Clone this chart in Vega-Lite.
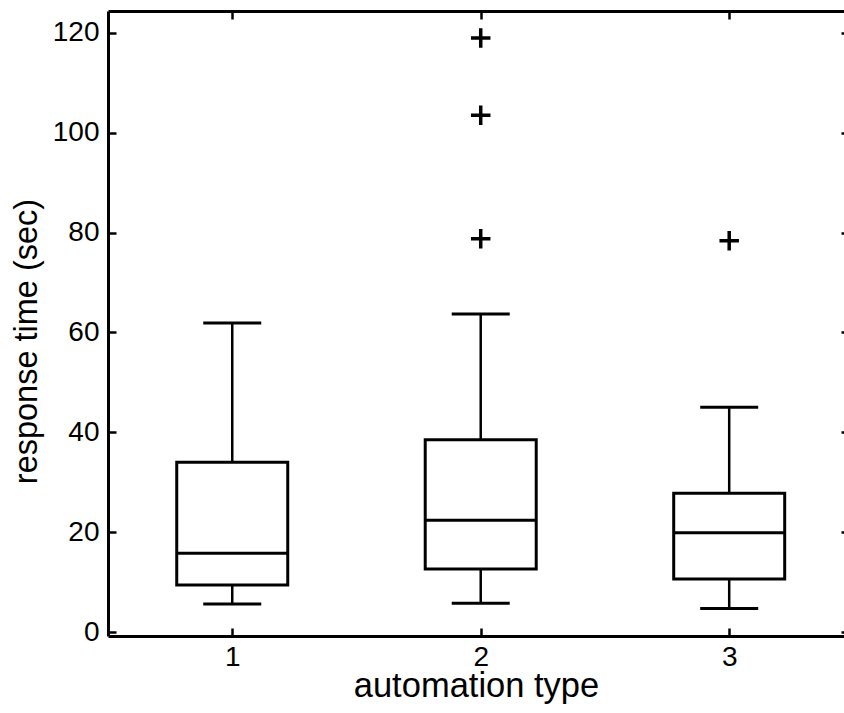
{
  "$schema": "https://vega.github.io/schema/vega-lite/v6.json",
  "width": 736,
  "height": 625,
  "autosize": {"type": "none"},
  "padding": {"left": 108, "top": 11, "right": 0, "bottom": 77},
  "background": "white",
  "config": {
    "view": {"stroke": null},
    "font": "Liberation Sans",
    "axis": {
      "domainColor": "black",
      "domainWidth": 3,
      "tickColor": "black",
      "tickWidth": 2.5,
      "labelColor": "black",
      "titleColor": "black",
      "labelFont": "Liberation Sans",
      "titleFont": "Liberation Sans",
      "labelFontSize": 28,
      "labelFontWeight": "normal",
      "titleFontSize": 34,
      "titleFontWeight": "normal",
      "grid": false
    }
  },
  "datasets": {
    "boxes": [
      {"type": 1, "lower": 5.6, "q1": 9.4, "median": 15.8, "q3": 34.0, "upper": 61.9},
      {"type": 2, "lower": 5.75, "q1": 12.6, "median": 22.4, "q3": 38.5, "upper": 63.7},
      {"type": 3, "lower": 4.7, "q1": 10.6, "median": 19.9, "q3": 27.8, "upper": 45.0}
    ],
    "outliers": [
      {"type": 2, "value": 78.8},
      {"type": 2, "value": 103.5},
      {"type": 2, "value": 119.0},
      {"type": 3, "value": 78.4}
    ]
  },
  "resolve": {"axis": {"x": "independent", "y": "independent"}},
  "layer": [
    {
      "data": {"name": "boxes"},
      "mark": {"type": "rule", "color": "black", "strokeWidth": 2.5},
      "encoding": {
        "x": {"field": "type", "type": "quantitative",
              "scale": {"domain": [0.5, 3.462], "nice": false, "zero": false, "padding": 0},
              "axis": {"orient": "bottom", "values": [1, 2, 3], "tickSize": -8, "labelPadding": 15,
                       "title": "automation type", "titleFontSize": 34.5, "titleY": 60, "titleBaseline": "alphabetic"}},
        "y": {"field": "q3", "type": "quantitative",
              "scale": {"domain": [-0.8, 124.4], "nice": false, "zero": false, "padding": 0},
              "axis": {"orient": "left", "values": [0, 20, 40, 60, 80, 100, 120], "tickSize": -8, "labelPadding": 17,
                       "title": "response time (sec)", "titleFontSize": 32.5, "titleX": -72, "titleY": 330, "titleBaseline": "alphabetic"}},
        "y2": {"field": "upper"}
      }
    },
    {
      "data": {"name": "boxes"},
      "mark": {"type": "rule", "color": "black", "strokeWidth": 2.5},
      "encoding": {
        "x": {"field": "type", "type": "quantitative",
              "axis": {"orient": "top", "values": [1, 2, 3], "tickSize": -8, "labels": false, "title": null}},
        "y": {"field": "lower", "type": "quantitative",
              "axis": {"orient": "right", "values": [0, 20, 40, 60, 80, 100, 120], "tickSize": -3, "labels": false, "domain": false, "title": null}},
        "y2": {"field": "q1"}
      }
    },
    {
      "data": {"name": "boxes"},
      "mark": {"type": "bar", "fill": "white", "stroke": "black", "strokeWidth": 3, "size": 111},
      "encoding": {
        "x": {"field": "type", "type": "quantitative", "axis": null},
        "y": {"field": "q1", "type": "quantitative", "axis": null},
        "y2": {"field": "q3"}
      }
    },
    {
      "data": {"name": "boxes"},
      "mark": {"type": "tick", "orient": "horizontal", "color": "black", "size": 111, "thickness": 3, "opacity": 1},
      "encoding": {
        "x": {"field": "type", "type": "quantitative", "axis": null},
        "y": {"field": "median", "type": "quantitative", "axis": null}
      }
    },
    {
      "data": {"name": "boxes"},
      "mark": {"type": "tick", "orient": "horizontal", "color": "black", "size": 58, "thickness": 3, "opacity": 1},
      "encoding": {
        "x": {"field": "type", "type": "quantitative", "axis": null},
        "y": {"field": "upper", "type": "quantitative", "axis": null}
      }
    },
    {
      "data": {"name": "boxes"},
      "mark": {"type": "tick", "orient": "horizontal", "color": "black", "size": 58, "thickness": 3, "opacity": 1},
      "encoding": {
        "x": {"field": "type", "type": "quantitative", "axis": null},
        "y": {"field": "lower", "type": "quantitative", "axis": null}
      }
    },
    {
      "data": {"name": "outliers"},
      "mark": {"type": "point", "shape": "M-1,0H1M0,-1V1", "size": 380, "filled": false, "stroke": "black", "strokeWidth": 3.5, "opacity": 1},
      "encoding": {
        "x": {"field": "type", "type": "quantitative", "axis": null},
        "y": {"field": "value", "type": "quantitative", "axis": null}
      }
    }
  ]
}
